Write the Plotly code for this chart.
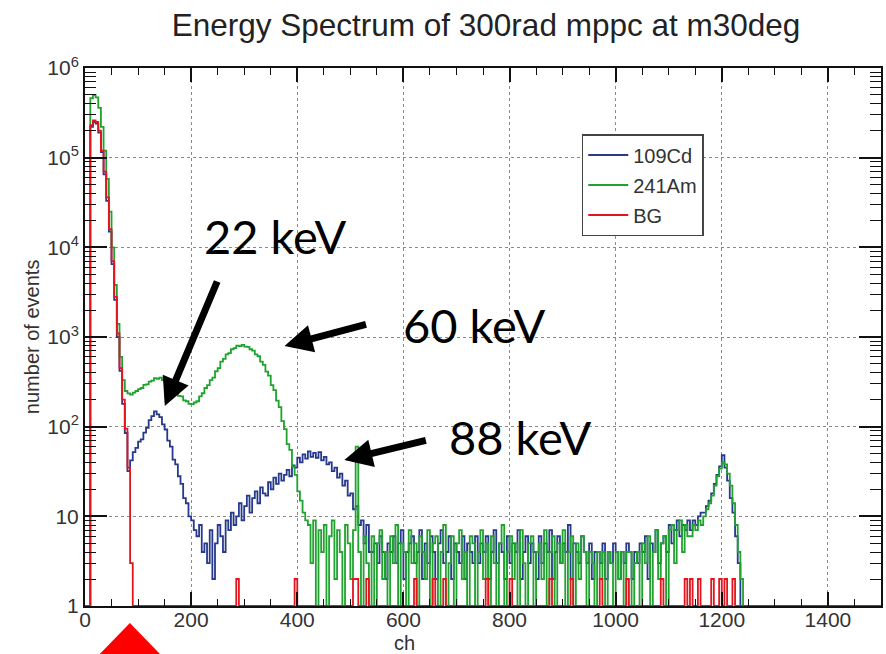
import plotly.graph_objects as go

BIN_WIDTH = 5  # channels per bin

# ---------------- data (counts per 5-ch bin, starting at ch 0) ----------------
cd109 = [
    0, 0, 220000, 250000, 240000, 190000, 115000, 65000, 33000, 15000, 6500, 2600, 1000, 420, 180, 85, 32, 42, 52, 58,
    68, 72, 86, 97, 118, 131, 148, 137, 128, 106, 93, 70, 60, 43, 38, 28, 23, 16, 14, 10,
    9, 7, 6, 8, 4, 5, 3, 7, 2, 5, 8, 6, 4, 9, 7, 11, 8, 10, 14, 9,
    13, 17, 11, 16, 19, 14, 21, 18, 17, 24, 20, 27, 23, 30, 25, 29, 33, 28, 37, 35,
    45, 40, 49, 44, 53, 46, 51, 45, 52, 42, 46, 38, 40, 32, 35, 27, 30, 22, 25, 17,
    18, 12, 13, 8, 9, 5, 8, 4,
    4, 5, 3, 6, 4, 2, 5, 4, 6, 3, 5, 7, 2, 4, 5, 6, 3, 4, 7, 2,
    5, 3, 6, 4, 2, 5, 7, 3, 4, 6, 2, 5, 4, 3, 6, 2, 5, 4, 3, 6,
    3, 5, 4, 6, 2, 4, 7, 3, 5, 4, 2, 6, 3, 5, 4, 7, 2, 4, 6, 3,
    5, 4, 2, 6, 3, 5, 4, 7, 2, 4, 6, 3, 5, 4, 8, 2, 5, 4, 3, 6,
    4, 3, 5, 2, 4, 4, 3, 5, 2, 4, 3, 5, 4, 2, 4, 3, 5, 4, 2, 4,
    3, 5, 4, 6, 2, 5, 4, 7, 3, 5, 6, 4, 8, 5, 7, 9, 6, 8, 7, 9,
    7, 9, 8, 10, 11, 11, 13, 15, 18, 23, 29, 36, 48, 35, 25, 16, 11, 6, 3, 1, 0, 0,
]

am241 = [
    0, 0, 460000, 500000, 470000, 360000, 220000, 120000, 58000, 25000, 10000, 3800, 1400, 600, 330, 250, 235, 228, 240, 250,
    262, 270, 292, 296, 318, 326, 348, 342, 352, 330, 315, 284, 270, 246, 238, 220, 218, 196, 192, 180,
    178, 186, 192, 218, 236, 270, 290, 330, 352, 415, 450, 530, 570, 640, 660, 730, 750, 800, 790, 815,
    780, 775, 730, 705, 640, 610, 530, 490, 410, 370, 290, 255, 195, 165, 115, 94, 64, 55, 36, 29,
    19, 15, 11, 9, 8, 3, 9, 1, 7, 4, 8, 0, 6, 9, 2, 7, 4, 1, 8, 5,
    2, 7, 60, 4, 1, 6, 3, 0,
    6, 1, 5, 7, 2, 4, 0, 6, 3, 8, 1, 5, 4, 1, 7, 3, 5, 0, 6, 4,
    2, 7, 1, 5, 6, 0, 4, 8, 1, 3, 6, 1, 5, 7, 2, 4, 0, 6, 5, 1,
    4, 7, 2, 5, 1, 6, 3, 0, 5, 8, 1, 4, 6, 2, 5, 1, 7, 3, 0, 5,
    6, 1, 4, 5, 2, 7, 0, 4, 6, 1, 5, 3, 7, 1, 4, 6, 0, 5, 2, 6,
    4, 1, 4, 3, 0, 4, 2, 4, 1, 4, 3, 0, 4, 2, 4, 1, 4, 4, 0, 3,
    4, 1, 5, 3, 6, 0, 4, 7, 2, 5, 6, 1, 7, 8, 3, 7, 9, 4, 8, 6,
    6, 8, 7, 9, 8, 10, 12, 14, 17, 22, 28, 34, 40, 38, 30, 22, 14, 8, 4, 2, 1, 0,
]

bg = [
    0, 0, 230000, 260000, 250000, 200000, 120000, 70000, 36000, 16000, 7000, 2800, 1100, 450, 200, 95, 35, 3, 0, 0,
    0, 0, 0, 1, 0, 0, 0, 0, 0, 0, 0, 1, 0, 0, 0, 0, 0, 0, 0, 0,
    0, 0, 0, 0, 0, 0, 0, 1, 0, 0, 0, 0, 0, 0, 0, 0, 0, 2, 0, 0,
    0, 0, 0, 0, 1, 0, 0, 0, 0, 0, 0, 0, 0, 0, 0, 0, 0, 0, 0, 2,
    0, 0, 0, 0, 0, 0, 0, 1, 0, 0, 0, 0, 0, 0, 0, 0, 0, 0, 0, 0,
    0, 2, 2, 0, 0, 0, 2, 0, 0, 0, 0, 1, 0, 0, 0, 0, 0, 0, 0, 0,
    0, 0, 0, 0, 2, 0, 0, 1, 0, 0, 0, 2, 0, 0, 0, 2, 0, 0, 1, 0,
    0, 0, 0, 0, 1, 0, 0, 0, 0, 0, 0, 2, 0, 0, 0, 0, 0, 0, 1, 0,
    2, 0, 0, 0, 0, 1, 0, 0, 0, 0, 0, 0, 0, 0, 0, 2, 0, 0, 0, 0,
    0, 1, 0, 2, 0, 0, 0, 0, 0, 1, 0, 0, 0, 0, 2, 0, 0, 0, 0, 0,
    0, 0, 0, 0, 2, 0, 0, 0, 1, 0, 0, 0, 0, 0, 0, 0, 0, 2, 0, 0,
    0, 0, 1, 0, 0, 0, 2, 0, 2, 0, 0, 2, 0, 0, 0, 0, 2, 0, 0, 2,
    0, 2, 0, 0, 2, 0, 0, 0, 0, 0, 0, 0, 0, 0, 0, 0, 0, 0, 0, 0,
    0, 0, 0, 0, 0, 0, 0, 0, 0, 0, 0, 0, 0, 0, 0, 0, 0, 0, 0, 0,
    0, 0, 0, 0, 0, 0, 0, 0, 0, 0, 0, 0, 0, 0, 0, 0, 0, 0, 0, 0,
]

series_names = ["109Cd", "241Am", "BG"]
series_colors = ["#26398c", "#1fa32e", "#e3141c"]

x_ticks = [0, 200, 400, 600, 800, 1000, 1200, 1400]
y_ticks = [1, 10, 100, 1000, 10000, 100000, 1000000]
y_ticktext = ["1", "10", "10<sup>2</sup>", "10<sup>3</sup>", "10<sup>4</sup>", "10<sup>5</sup>", "10<sup>6</sup>"]

title_text = "Energy Spectrum of 300rad mppc at m30deg"
peak_labels = ["22 keV", "60 keV", "88 keV"]

# ---------------- figure ----------------
fig = go.Figure()


def step(vals):
    xs = [i * BIN_WIDTH for i in range(len(vals))] + [len(vals) * BIN_WIDTH]
    ys = [v if v > 0 else 1 for v in vals]
    ys = ys + [ys[-1]]
    return xs, ys


for i, (vals, name, col) in enumerate(zip([cd109, am241, bg], series_names, series_colors)):
    xs, ys = step(vals)
    fig.add_trace(go.Scatter(x=xs, y=ys, mode="lines", name=name, legendgroup=name,
                             line=dict(color=col, width=1.8, shape="hv")))

L, R, T, B = 85, 883, 68, 606
W, H = 886, 654
pw, ph = R - L, B - T


def px2paper(px, py):
    return (px - L) / pw, (B - py) / ph


tick_font = dict(family="Liberation Sans, Arial, sans-serif", size=21, color="#333333")

minor_y = []
for d in range(6):
    for k in range(2, 10):
        minor_y.append(k * 10 ** d)

fig.update_xaxes(range=[0, 1500], tickvals=x_ticks, ticktext=[str(v) for v in x_ticks],
                 ticks="inside", ticklen=14, tickwidth=1.5, tickcolor="#111",
                 showline=True, linecolor="#111", linewidth=2, mirror="ticks",
                 showgrid=True, gridcolor="#8a8a8a", griddash="dot", gridwidth=1,
                 zeroline=False, tickfont=tick_font, ticklabelstandoff=-6,
                 minor=dict(dtick=50, tick0=0, ticks="inside", ticklen=7, tickwidth=1.2,
                            tickcolor="#111", showgrid=False))
fig.update_yaxes(type="log", range=[0, 6], tickvals=y_ticks, ticktext=y_ticktext,
                 ticks="inside", ticklen=22, tickwidth=1.5, tickcolor="#111",
                 showline=True, linecolor="#111", linewidth=2, mirror="ticks",
                 showgrid=True, gridcolor="#8a8a8a", griddash="dot", gridwidth=1,
                 zeroline=False, tickfont=tick_font,
                 minor=dict(tickvals=minor_y, ticks="inside", ticklen=11, tickwidth=1.2,
                            tickcolor="#111", showgrid=False))

annotations = []
# axis titles
ax_font = dict(family="Liberation Sans, Arial, sans-serif", size=20, color="#333333")
tx, ty = px2paper(32, 337)
annotations.append(dict(text="number of events", x=tx, y=ty, xref="paper", yref="paper",
                        textangle=-90, showarrow=False, font=ax_font,
                        xanchor="center", yanchor="middle"))
tx, ty = px2paper(405, 643)
annotations.append(dict(text="ch", x=tx, y=ty, xref="paper", yref="paper",
                        showarrow=False, font=ax_font, xanchor="center", yanchor="middle"))

# peak labels and arrows
label_font = dict(family="Lato, Noto Sans, sans-serif", size=47, color="#000000")
label_pos = [(275, 236), (475, 325), (521, 437)]
arrow_tips = [(165, 406), (285, 346), (345, 460)]
arrow_tails = [(218, 280), (368, 324), (428, 440)]
for lab, (lx, ly), (hx, hy), (qx, qy) in zip(peak_labels, label_pos, arrow_tips, arrow_tails):
    px_, py_ = px2paper(lx, ly)
    annotations.append(dict(text=lab, x=px_, y=py_, xref="paper", yref="paper",
                            showarrow=False, font=label_font,
                            xanchor="center", yanchor="middle"))
    hx_, hy_ = px2paper(hx, hy)
    annotations.append(dict(text="", x=hx_, y=hy_, xref="paper", yref="paper",
                            showarrow=True, ax=qx - hx, ay=qy - hy,
                            arrowhead=2, arrowsize=0.8, arrowwidth=7, arrowcolor="#000000",
                            standoff=0, startstandoff=0))

# red triangle marker below axis
p1 = px2paper(130, 623)
p2 = px2paper(94, 660)
p3 = px2paper(166, 660)
shapes = [dict(type="path", xref="paper", yref="paper",
               path=f"M {p1[0]},{p1[1]} L {p2[0]},{p2[1]} L {p3[0]},{p3[1]} Z",
               fillcolor="#ff0000", line=dict(color="#ff0000", width=0), layer="above")]

lx, ly = px2paper(583, 134)
fig.update_layout(
    width=W, height=H,
    margin=dict(l=L, r=W - R, t=T, b=H - B),
    paper_bgcolor="white", plot_bgcolor="white",
    title=dict(text=title_text, x=486 / W, xanchor="center", y=1 - 25 / H, yanchor="middle",
               font=dict(family="Liberation Sans, Arial, sans-serif", size=31.5, color="#222222")),
    showlegend=True,
    legend=dict(x=lx, y=ly, xanchor="left", yanchor="top", bgcolor="white",
                bordercolor="#444444", borderwidth=1.5, tracegroupgap=1, itemwidth=40,
                font=dict(family="Liberation Sans, Arial, sans-serif", size=20, color="#333333")),
    annotations=annotations,
    shapes=shapes,
)

fig.write_html("out.html")
